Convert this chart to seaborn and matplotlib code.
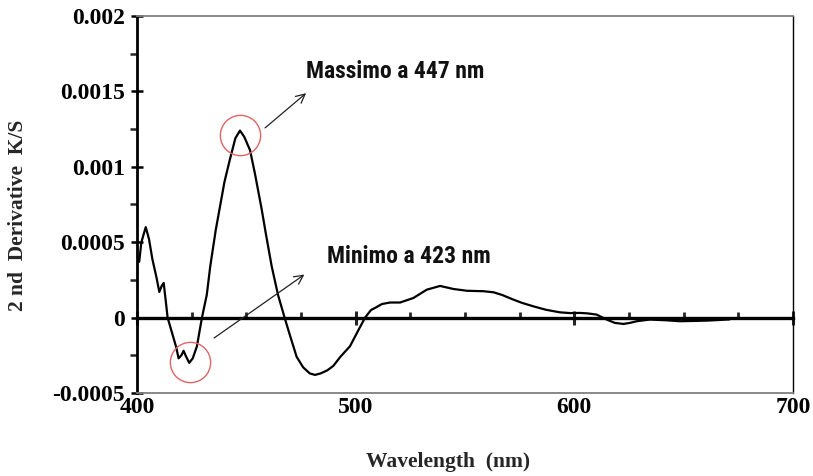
import matplotlib
matplotlib.use("Agg")
import matplotlib.pyplot as plt
from matplotlib.ticker import MultipleLocator, FuncFormatter
from matplotlib import font_manager
import seaborn as sns
import pandas as pd

# ---- data ----
wavelength = [401, 402, 404, 405.5, 407, 409, 410.2, 411.3, 412.2, 413, 414, 416, 418, 419,
              420.3, 421.3, 422.5, 423.9, 425.5, 427.4, 429.7, 431.9, 433.5, 436, 438, 440,
              442.5, 445, 447.1, 449, 451.7, 454, 457, 459, 461.6, 464.5, 467.7, 470, 473,
              476, 479, 481.4, 484, 487, 489.8, 493, 497.4, 501, 504.3, 507, 509.6, 512,
              515.7, 520.3, 526.4, 532.5, 538.6, 544.6, 550.8, 558.4, 563, 567, 572, 576,
              581.2, 587, 593.4, 598, 602.6, 606, 610.2, 614.8, 618.5, 622.4, 625.5, 628.5,
              634.6, 642.2, 648.3, 655, 660.6, 666, 671]
second_derivative = [0.00037, 0.00050, 0.00060, 0.00052, 0.00039, 0.00026, 0.00017, 0.00021,
                     0.00023, 0.00013, 0.00000, -0.00010, -0.00020, -0.00027, -0.00025,
                     -0.00022, -0.00026, -0.00030, -0.00027, -0.00019, 0.00000, 0.00015,
                     0.00034, 0.00058, 0.00074, 0.00090, 0.00105, 0.00119, 0.00124, 0.00120,
                     0.00111, 0.00095, 0.00072, 0.00055, 0.00034, 0.00015, -0.00001, -0.00012,
                     -0.00026, -0.00033, -0.00037, -0.00038, -0.00037, -0.00035, -0.00032,
                     -0.00026, -0.00019, -0.00009, 0.00000, 0.00005, 0.00007, 0.00009,
                     0.00010, 0.00010, 0.00013, 0.000185, 0.00021, 0.00019, 0.000178,
                     0.000175, 0.000168, 0.00015, 0.00012, 0.000098, 0.000075, 0.000052,
                     0.000035, 0.00003, 0.000031, 0.000028, 0.00002, -0.000013, -0.000035,
                     -0.000042, -0.000035, -0.000024, -0.000013, -0.000018, -0.000024,
                     -0.000022, -0.00002, -0.000016, -0.000012]

peak_wl, peak_val = 447.1, 0.00121
min_wl, min_val = 424.2, -0.000292
label_max = "Massimo a 447 nm"
label_min = "Minimo a 423 nm"

x_ticks = [400, 500, 600, 700]

# ---- style ----
sns.set_theme(style="white")
plt.rcParams["font.family"] = ["Liberation Serif", "DejaVu Serif"]
serif_bold = dict(family=["Liberation Serif", "DejaVu Serif"], weight="bold")

# pick a condensed bold sans if one is installed
names = {f.name for f in font_manager.fontManager.ttflist}
narrow_choice = None
for cand in ["Liberation Sans Narrow", "DejaVu Sans Condensed", "Roboto Condensed",
             "Open Sans Condensed"]:
    if cand in names:
        narrow_choice = cand
        break
if narrow_choice is None:
    narrow_kw = dict(family=["DejaVu Sans"], stretch="condensed", fontsize=14.5)
else:
    narrow_kw = dict(family=[narrow_choice, "DejaVu Sans"], fontsize=17)

fig = plt.figure(figsize=(8.13, 4.76), dpi=100)
ax = fig.add_axes([137 / 813, 1 - 393 / 476, (793 - 137) / 813, (393 - 16) / 476])

df = pd.DataFrame({"wl": wavelength, "d2": second_derivative})
sns.lineplot(data=df, x="wl", y="d2", ax=ax, color="black", lw=1.6, sort=False)

ax.set_xlim(400, 700)
ax.set_ylim(-0.0005, 0.002)

# frame
for side in ["top", "bottom"]:
    ax.spines[side].set_color("#7f7f7f")
    ax.spines[side].set_linewidth(1.3)
ax.spines["right"].set_color("black")
ax.spines["right"].set_linewidth(1.0)
ax.spines["left"].set_color("black")
ax.spines["left"].set_linewidth(2.0)

# y axis ticks
ax.yaxis.set_major_locator(MultipleLocator(0.0005))
ax.yaxis.set_minor_locator(MultipleLocator(0.00025))
ax.yaxis.set_major_formatter(FuncFormatter(lambda v, p: "%g" % round(v, 6)))
ax.tick_params(axis="y", which="major", direction="inout", length=9, width=1.8,
               left=True, right=False, pad=4, labelsize=17, colors="black")
ax.tick_params(axis="y", which="minor", direction="out", length=5, width=1.8,
               left=True, right=False)
for lab in ax.get_yticklabels():
    lab.set_fontweight("bold")

# x labels at the bottom, ticks on the zero line
ax.set_xticks(x_ticks)
ax.tick_params(axis="x", which="both", length=0, pad=3, labelsize=17, colors="black")
for lab in ax.get_xticklabels():
    lab.set_fontweight("bold")

zero_ax = ax.secondary_xaxis(0.2)
zero_ax.spines["bottom"].set_linewidth(2.4)
zero_ax.spines["bottom"].set_color("black")
zero_ax.set_xticks(x_ticks)
zero_ax.xaxis.set_minor_locator(MultipleLocator(25))
zero_ax.tick_params(axis="x", which="major", direction="inout", length=10, width=2.2,
                    labelbottom=False)
zero_ax.tick_params(axis="x", which="minor", direction="in", length=4, width=2.0,
                    labelbottom=False)

ax.set_xlabel("Wavelength  (nm)", fontsize=15.5, **serif_bold)
ax.set_ylabel("2 nd  Derivative  K/S", fontsize=15.5, **serif_bold)
ax.xaxis.set_label_coords(0.474, -0.156)
ax.yaxis.set_label_coords(-0.166, 0.47)

# red circles around the peak and the minimum
ax.plot([peak_wl], [peak_val], marker="o", markersize=29, markerfacecolor="none",
        markeredgecolor="#e06464", markeredgewidth=1.0, linestyle="none")
ax.plot([min_wl], [min_val], marker="o", markersize=29, markerfacecolor="none",
        markeredgecolor="#e06464", markeredgewidth=1.0, linestyle="none")

# arrows and labels
arrow = dict(arrowstyle="->", lw=0.9, color="#222222", mutation_scale=16)
ax.annotate("", xy=(478.3, 0.0015), xytext=(457.6, 0.001246), arrowprops=arrow)
ax.annotate("", xy=(477.6, 0.000296), xytext=(434.2, -0.000146), arrowprops=arrow)
ax.text(477.3, 0.001633, label_max, fontweight="bold", va="center", ha="left",
        color="#111111", **narrow_kw)
ax.text(486.8, 0.000406, label_min, fontweight="bold", va="center", ha="left",
        color="#111111", **narrow_kw)

fig.savefig("out.png", dpi=100)
